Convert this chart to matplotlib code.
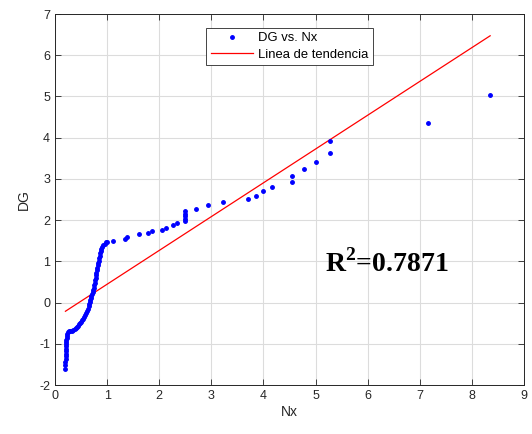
import matplotlib
matplotlib.use("Agg")
import numpy as np
import matplotlib.pyplot as plt

# DG vs Nx points
nx = [0.20, 0.20, 0.20, 0.205, 0.205, 0.21, 0.21, 0.21, 0.215, 0.215, 0.22, 0.22,
      0.225, 0.23, 0.23, 0.24,
      0.26, 0.29, 0.32, 0.35, 0.38, 0.40, 0.42, 0.44, 0.46, 0.48, 0.50, 0.52,
      0.54, 0.56, 0.58, 0.60, 0.61, 0.63, 0.65, 0.66, 0.67, 0.68, 0.69, 0.70,
      0.71, 0.72, 0.73, 0.74, 0.75, 0.76, 0.77, 0.78, 0.79, 0.79, 0.80, 0.81,
      0.82, 0.83, 0.84, 0.85, 0.86, 0.87, 0.88, 0.89, 0.91, 0.93, 0.95, 0.97, 0.99,
      1.12, 1.34, 1.38, 1.62, 1.79, 1.86, 2.05, 2.13, 2.27, 2.34,
      2.50, 2.50, 2.50, 2.50, 2.50, 2.71, 2.94, 3.23, 3.71, 3.86, 4.00, 4.17,
      4.55, 4.55, 4.77, 5.01, 5.27, 5.27, 7.15, 8.35]
dg = [-1.62, -1.52, -1.44, -1.36, -1.30, -1.24, -1.18, -1.12, -1.06, -1.00, -0.95, -0.90,
      -0.85, -0.80, -0.76, -0.72,
      -0.70, -0.69, -0.68, -0.67, -0.64, -0.61, -0.59, -0.56, -0.53, -0.50, -0.46, -0.43,
      -0.39, -0.35, -0.30, -0.25, -0.21, -0.15, -0.09, -0.04, 0.01, 0.06, 0.11, 0.16,
      0.21, 0.26, 0.31, 0.36, 0.42, 0.48, 0.54, 0.60, 0.66, 0.72, 0.78, 0.84,
      0.90, 0.96, 1.02, 1.08, 1.14, 1.20, 1.26, 1.31, 1.36, 1.40, 1.43, 1.46, 1.48,
      1.50, 1.53, 1.58, 1.66, 1.69, 1.73, 1.77, 1.82, 1.88, 1.93,
      1.97, 2.03, 2.09, 2.15, 2.21, 2.28, 2.36, 2.43, 2.51, 2.59, 2.70, 2.81,
      2.93, 3.07, 3.23, 3.42, 3.64, 3.92, 4.35, 5.03]

# trend line
slope = 0.82
intercept = -0.375
trend_x = [0.20, 8.35]
r2_value = "0.7871"

plt.rcParams['font.family'] = ['Liberation Sans', 'DejaVu Sans']
plt.rcParams['axes.unicode_minus'] = False
plt.rcParams['mathtext.fontset'] = 'custom'
plt.rcParams['mathtext.bf'] = 'Liberation Serif:bold'
plt.rcParams['mathtext.rm'] = 'Liberation Serif:bold'

fig = plt.figure(figsize=(5.32, 4.34), dpi=100)
ax = fig.add_axes([0.1034, 0.1129, 0.8816, 0.8548])

ax.plot(nx, dg, '.', color='#0000ff', markersize=5, label='DG vs. Nx', zorder=3)
ty = [slope * x + intercept for x in trend_x]
ax.plot(trend_x, ty, '-', color='#ff0000', linewidth=0.9, label='Linea de tendencia', zorder=2)

ax.set_xlim(0, 9)
ax.set_ylim(-2, 7)
ax.set_xticks(range(0, 10))
ax.set_yticks(range(-2, 8))
ax.grid(True, color='#dcdcdc', linewidth=0.8)
ax.set_axisbelow(True)
ax.tick_params(direction='in', top=True, right=True, labelsize=9,
               colors='#262626', length=4, width=0.6)
for s in ax.spines.values():
    s.set_color('#262626')
    s.set_linewidth(0.7)

ax.set_xlabel('Nx', fontsize=10, color='#262626', labelpad=2)
ax.set_ylabel('DG', fontsize=10, color='#262626', labelpad=6)

ax.text(5.18, 0.76, "R$^{\\mathbf{2}}$=" + r2_value, fontsize=20, fontweight='bold',
        family=['Liberation Serif', 'DejaVu Serif'], color='black')

leg = ax.legend(loc='upper center', bbox_to_anchor=(0.5, 0.963), fontsize=9.4,
                fancybox=False, framealpha=1, edgecolor='#262626',
                handlelength=3.2, borderpad=0.35, labelspacing=0.3,
                handletextpad=0.4, borderaxespad=0)
leg.get_frame().set_linewidth(0.6)

fig.savefig('out.png', dpi=100)
